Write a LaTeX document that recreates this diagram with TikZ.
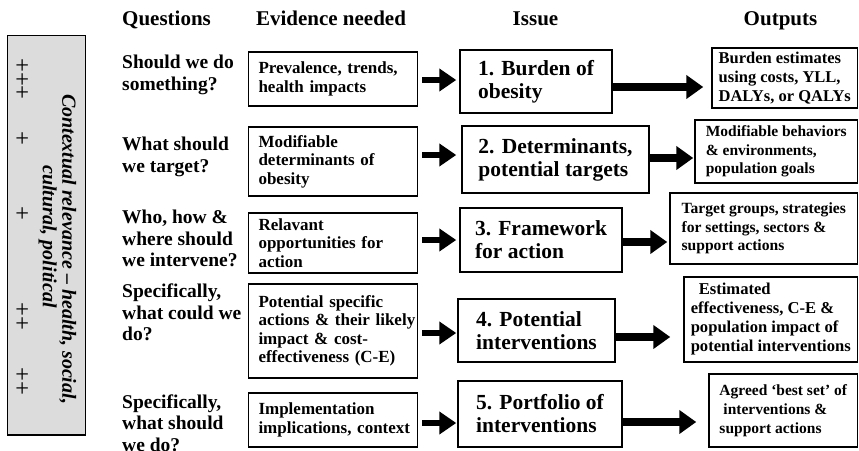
\documentclass[tikz,border=0pt]{standalone}
\usepackage{fontspec}
\setmainfont{Liberation Serif}
\usetikzlibrary{arrows.meta}
\definecolor{panelgray}{RGB}{220,220,220}
\newcommand{\setfs}[2]{\fontsize{#1}{#2}\selectfont}
\begin{document}
\begin{tikzpicture}[x=1pt,y=-1pt,
  every node/.style={font=\bfseries},
  box/.style={draw=black, line width=1.5pt, fill=white, inner ysep=2pt},
  evbox/.style={box, text width=149pt, align=left, inner xsep=0pt, minimum width=169pt, font=\bfseries\setfs{17}{18.5}},
  isbox/.style={box, align=left, inner xsep=0pt, font=\bfseries\setfs{21.5}{23}},
  outbox/.style={box, align=left, inner xsep=0pt},
  question/.style={anchor=north west, align=left, inner sep=0pt, font=\bfseries\setfs{19.5}{21.5}},
  header/.style={anchor=base, inner sep=0pt, font=\bfseries\setfs{21}{24}},
  plus/.style={rotate=-90, inner sep=0pt, font=\setfs{24.5}{26}},
  evarrow/.style={line width=6.3pt, -{Triangle[length=17pt,width=22pt]}},
  isarrow/.style={line width=7.5pt, -{Triangle[length=17pt,width=23pt]}},
]
\useasboundingbox (0,0) rectangle (859,450);

% left contextual panel
\node[draw=black, line width=1.5pt, fill=panelgray, minimum width=78pt, minimum height=399.5pt, inner sep=0pt] (panel) at (46.5,235.25) {};
\node[rotate=-90, align=center, inner sep=0pt, font=\bfseries\itshape\setfs{20}{19.5}] (ctx) at (57.5,249)
  {Contextual relevance – health, social,\\cultural, political\hspace*{25pt}};
\node[plus] (p1) at (21,79) {+++};
\node[plus] (p2) at (21,138.5) {+};
\node[plus] (p3) at (21,213) {+};
\node[plus] (p4) at (21,316) {++};
\node[plus] (p5) at (21,381) {++};

% headers
\node[header, anchor=base west] (hq) at (122,25) {Questions};
\node[header] (he) at (331,25) {Evidence needed};
\node[header] (hi) at (535.5,25) {Issue};
\node[header] (ho) at (780.5,25) {Outputs};

% questions
\node[question] (q1) at (122,55) {Should we do\\something?};
\node[question] (q2) at (122,137) {What should\\we target?};
\node[question] (q3) at (122,210) {Who, how \&\\where should\\we intervene?};
\node[question] (q4) at (122,284) {Specifically,\\what could we\\do?};
\node[question] (q5) at (122,394.5) {Specifically,\\what should\\we do?};

% evidence boxes
\node[evbox, minimum height=54pt] (e1) at (333,79) {Prevalence, trends,\\health impacts};
\node[evbox, minimum height=69pt] (e2) at (333,161.5) {Modifiable\\determinants of\\obesity};
\node[evbox, minimum height=60pt] (e3) at (333,243) {Relavant\\opportunities for\\action};
\node[evbox, minimum height=94pt] (e4) at (333,331) {Potential specific\\\mbox{actions \& their likely}\\impact \& cost-\\effectiveness (C-E)};
\node[evbox, minimum height=54pt] (e5) at (333,420) {Implementation\\\mbox{implications, context}};

% issue boxes
\node[isbox, minimum width=152pt, minimum height=63pt] (i1) at (536,81.5) {1. Burden of\\obesity};
\node[isbox, minimum width=187pt, minimum height=67pt] (i2) at (555.5,159.5) {2. Determinants,\\potential targets};
\node[isbox, minimum width=162pt, minimum height=64pt] (i3) at (541,240) {3. Framework\\for action};
\node[isbox, minimum width=157pt, minimum height=63pt] (i4) at (536.5,330.5) {4. Potential\\interventions};
\node[isbox, minimum width=164pt, minimum height=66pt] (i5) at (540,414) {5. Portfolio of\\interventions};

% output boxes
\node[outbox, minimum width=145.5pt, minimum height=60pt, font=\bfseries\setfs{16.5}{18.8}] (o1) at (784.75,78) {Burden estimates\\using costs, YLL,\\DALYs, or QALYs};
\node[outbox, minimum width=162.5pt, minimum height=63pt, font=\bfseries\setfs{15.5}{18.5}] (o2) at (776.25,151.5) {Modifiable behaviors\\\& environments,\\population goals};
\node[outbox, minimum width=187.5pt, minimum height=71pt, font=\bfseries\setfs{15.6}{18.5}] (o3) at (763.75,228.5) {Target groups, strategies\\for settings, sectors \&\\support actions};
\node[outbox, minimum width=173.5pt, minimum height=85pt, font=\bfseries\setfs{16.6}{19}] (o4) at (770.75,319.5) {\hspace*{8pt}Estimated\\effectiveness, C-E \&\\population impact of\\potential interventions};
\node[outbox, minimum width=148.5pt, minimum height=73pt, font=\bfseries\setfs{15.5}{18.8}] (o5) at (783.25,410.5) {Agreed ‘best set’ of\\\hspace*{4pt}interventions \&\\support actions};

% arrow levels
\coordinate (ya1) at (0,80);
\coordinate (ya2) at (0,155);
\coordinate (ya3) at (0,240);
\coordinate (ya4) at (0,333);
\coordinate (ya5) at (0,423);
\coordinate (yb1) at (0,87);
\coordinate (yb2) at (0,158);
\coordinate (yb3) at (0,242);
\coordinate (yb4) at (0,337);
\coordinate (yb5) at (0,422);

% evidence -> issue
\draw[evarrow, shorten <=4pt, shorten >=3pt] (e1.east |- ya1) -- (i1.west |- ya1);
\draw[evarrow, shorten <=4pt, shorten >=5pt] (e2.east |- ya2) -- (i2.west |- ya2);
\draw[evarrow, shorten <=4pt, shorten >=3pt] (e3.east |- ya3) -- (i3.west |- ya3);
\draw[evarrow, shorten <=4pt, shorten >=1pt] (e4.east |- ya4) -- (i4.west |- ya4);
\draw[evarrow, shorten <=4pt, shorten >=1pt] (e5.east |- ya5) -- (i5.west |- ya5);

% issue -> outputs
\draw[isarrow, shorten >=8pt] (i1.east |- yb1) -- (o1.west |- yb1);
\draw[isarrow, shorten >=1pt] (i2.east |- yb2) -- (o2.west |- yb2);
\draw[isarrow, shorten >=2pt] (i3.east |- yb3) -- (o3.west |- yb3);
\draw[isarrow, shorten >=13pt] (i4.east |- yb4) -- (o4.west |- yb4);
\draw[isarrow, shorten >=12pt] (i5.east |- yb5) -- (o5.west |- yb5);
\end{tikzpicture}
\end{document}
